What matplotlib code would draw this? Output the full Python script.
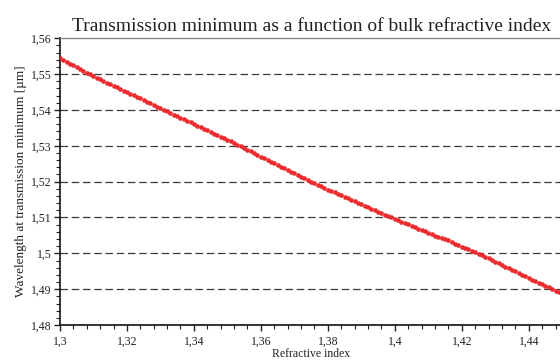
import numpy as np
import matplotlib
matplotlib.use("Agg")
import matplotlib.pyplot as plt
from matplotlib.ticker import MultipleLocator, FuncFormatter

plt.rcParams["font.family"] = ["Liberation Serif", "DejaVu Serif"]

# Bulk refractive index sweep (step 0.001) and the wavelength of the transmission dip [um]
refractive_index = np.round(np.arange(1.300, 1.4505, 0.001), 3)
wavelength_min = [
    1.5545, 1.5540, 1.5534, 1.5529, 1.5524, 1.5519, 1.5513, 1.5508, 1.5503, 1.5499,
    1.5494, 1.5490, 1.5485, 1.5481, 1.5476, 1.5472, 1.5467, 1.5463, 1.5458, 1.5454,
    1.5449, 1.5445, 1.5441, 1.5436, 1.5432, 1.5427, 1.5423, 1.5418, 1.5414, 1.5409,
    1.5405, 1.5400, 1.5396, 1.5391, 1.5387, 1.5382, 1.5378, 1.5374, 1.5369, 1.5365,
    1.5360, 1.5356, 1.5352, 1.5347, 1.5343, 1.5338, 1.5334, 1.5330, 1.5325, 1.5321,
    1.5317, 1.5312, 1.5308, 1.5303, 1.5299, 1.5294, 1.5289, 1.5285, 1.5280, 1.5275,
    1.5270, 1.5266, 1.5261, 1.5256, 1.5251, 1.5247, 1.5242, 1.5237, 1.5232, 1.5228,
    1.5223, 1.5218, 1.5213, 1.5209, 1.5204, 1.5199, 1.5195, 1.5191, 1.5187, 1.5183,
    1.5178, 1.5174, 1.5170, 1.5166, 1.5162, 1.5158, 1.5154, 1.5149, 1.5145, 1.5141,
    1.5137, 1.5133, 1.5129, 1.5124, 1.5120, 1.5116, 1.5112, 1.5108, 1.5104, 1.5100,
    1.5096, 1.5092, 1.5088, 1.5084, 1.5081, 1.5077, 1.5073, 1.5069, 1.5065, 1.5061,
    1.5057, 1.5053, 1.5049, 1.5046, 1.5044, 1.5041, 1.5036, 1.5031, 1.5027, 1.5023,
    1.5019, 1.5015, 1.5011, 1.5007, 1.5003, 1.4999, 1.4995, 1.4990, 1.4986, 1.4981,
    1.4977, 1.4972, 1.4968, 1.4963, 1.4959, 1.4954, 1.4950, 1.4945, 1.4941, 1.4936,
    1.4932, 1.4927, 1.4923, 1.4918, 1.4914, 1.4909, 1.4905, 1.4900, 1.4896, 1.4891,
    1.4887,
]
x_ticks = [1.30, 1.32, 1.34, 1.36, 1.38, 1.40, 1.42, 1.44]
y_ticks = [1.48, 1.49, 1.50, 1.51, 1.52, 1.53, 1.54, 1.55, 1.56]

fig = plt.figure(figsize=(5.6, 3.6), dpi=100)
ax = fig.add_axes([0.107, 0.097, 0.897, 0.797])

# horizontal dashed grid at every major y tick
for yv in y_ticks[1:-1]:
    ax.axhline(yv, color="#3a3a3a", lw=0.9, ls=(0, (6, 3)), zorder=1)

ax.plot(refractive_index, wavelength_min, ls="none", marker="o", ms=3.0,
        mfc="#ea2a2d", mec="#ea2a2d", mew=0.3, zorder=3)

ax.set_xlim(1.3, 1.45)
ax.set_ylim(1.48, 1.56)
ax.set_xticks(x_ticks)
ax.set_yticks(y_ticks)
ax.xaxis.set_minor_locator(MultipleLocator(0.004))
ax.yaxis.set_minor_locator(MultipleLocator(0.002))

comma = FuncFormatter(lambda v, _: f"{v:.2f}".rstrip("0").rstrip(".").replace(".", ","))
ax.xaxis.set_major_formatter(comma)
ax.yaxis.set_major_formatter(comma)

ax.tick_params(which="major", direction="out", length=4, width=1, labelsize=8.5,
               colors="#222222")
ax.tick_params(axis="x", which="major", pad=4)
ax.tick_params(axis="y", which="major", pad=2)
ax.tick_params(which="minor", direction="out", length=3, width=0.8, colors="#222222")

for side in ("left", "bottom"):
    ax.spines[side].set_color("#111111")
    ax.spines[side].set_linewidth(1.2)
ax.spines["top"].set_color("#888888")
ax.spines["top"].set_linewidth(1.0)
ax.spines["right"].set_visible(False)

ax.set_title("Transmission minimum as a function of bulk refractive index",
             fontsize=14, color="#222222", pad=5)
ax.set_xlabel("Refractive index", fontsize=8.5, color="#222222", labelpad=0)
ax.set_ylabel("Wavelength at transmission minimum [\u00b5m]", fontsize=9.5,
              color="#222222", labelpad=3)

fig.savefig("out.png", dpi=100)
